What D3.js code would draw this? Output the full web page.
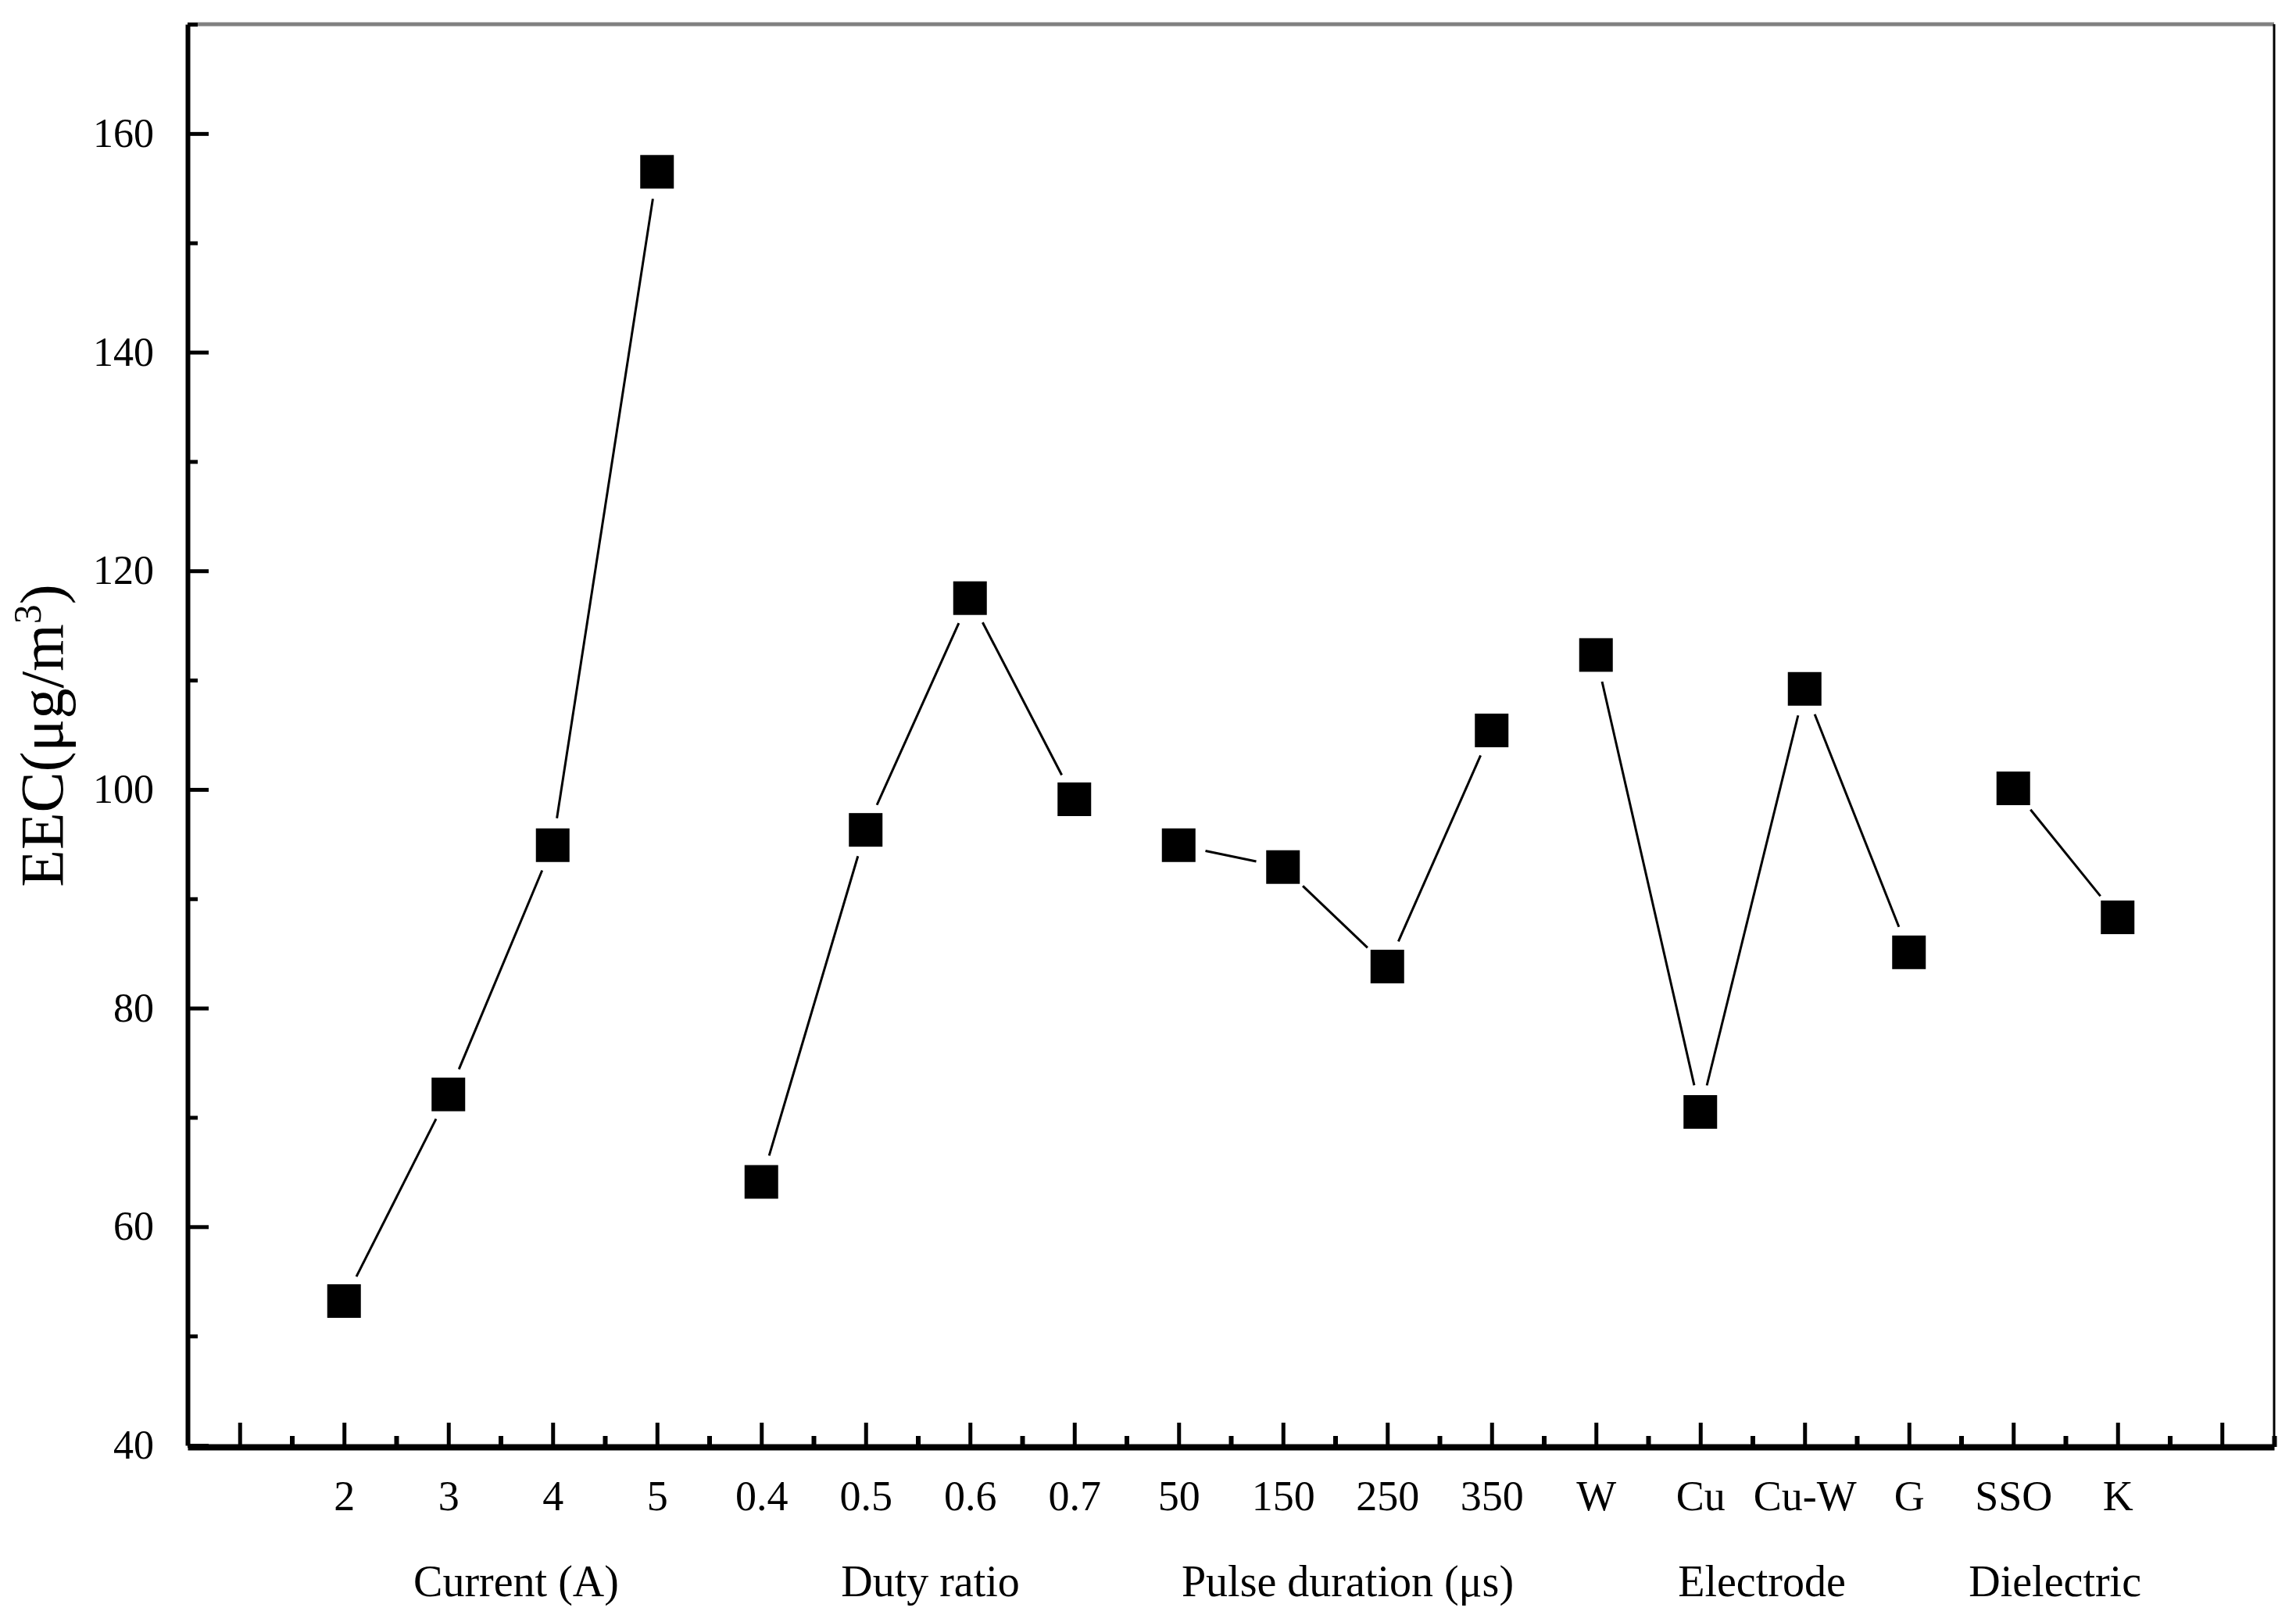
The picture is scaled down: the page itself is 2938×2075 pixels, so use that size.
<!DOCTYPE html>
<html lang="en">
<head>
<meta charset="UTF-8">
<title>EEC by process parameter</title>
<script src="https://d3js.org/d3.v7.min.js"></script>
<style>
    body { margin: 0; background: #ffffff; }
    svg { display: block; font-family: 'Liberation Serif', 'Times New Roman', serif; }
    .axis text { fill: #000; }
</style>
</head>
<body>
<svg width="2938" height="2075"></svg>
<script>
    // data
    const groupNames = ["Current (A)", "Duty ratio", "Pulse duration (\u03bcs)", "Electrode", "Dielectric"];
    const groupCategories = [
        ["2", "3", "4", "5"],
        ["0.4", "0.5", "0.6", "0.7"],
        ["50", "150", "250", "350"],
        ["W", "Cu", "Cu-W", "G"],
        ["SSO", "K"]
    ];
    const groupValues = [
        [53.2, 72.1, 94.9, 156.5],
        [64.1, 96.3, 117.5, 99.1],
        [94.9, 92.9, 83.8, 105.4],
        [112.3, 70.5, 109.2, 85.1],
        [100.1, 88.3]
    ];
    const yTicks = [40, 60, 80, 100, 120, 140, 160];
    const yMinorTicks = [50, 70, 90, 110, 130, 150, 170];

    // layout
    const svg = d3.select("svg");
    const plot = { left: 240, right: 2910, top: 31, bottom: 1849 };
    const labelShift = [0.15, 0.12, 0.12, 0.09, -0.1];
    const serif = "'Liberation Serif', 'Times New Roman', serif";

    const categories = groupCategories.flat();

    const x = d3.scaleLinear().domain([-0.5, 19.5]).range([plot.left, plot.right]);
    const y = d3.scaleLinear().domain([40, 170]).range([plot.bottom, plot.top]);

    // points with their slot on the x axis (slot 0 and 19 are left blank)
    let slot = 1;
    const groups = groupValues.map((vals, g) => {
        const pts = vals.map((v, i) => ({ idx: slot + i, value: v, label: groupCategories[g][i] }));
        slot += vals.length;
        return pts;
    });

    // frame: grey top, thin right
    svg.append("line")
       .attr("x1", plot.left).attr("x2", plot.right).attr("y1", plot.top).attr("y2", plot.top)
       .attr("stroke", "#808080").attr("stroke-width", 5);
    svg.append("line")
       .attr("x1", plot.right).attr("x2", plot.right).attr("y1", plot.top).attr("y2", plot.bottom + 2)
       .attr("stroke", "#000").attr("stroke-width", 3);

    // connecting lines, stopped short of the markers
    const gap = 35;
    const lineG = svg.append("g");
    groups.forEach(pts => {
        d3.pairs(pts).forEach(([a, b]) => {
            const x1 = x(a.idx), y1 = y(a.value), x2 = x(b.idx), y2 = y(b.value);
            const len = Math.hypot(x2 - x1, y2 - y1);
            if (len <= 2 * gap) return;
            const ux = (x2 - x1) / len, uy = (y2 - y1) / len;
            lineG.append("line")
                 .attr("x1", x1 + ux * gap).attr("y1", y1 + uy * gap)
                 .attr("x2", x2 - ux * gap).attr("y2", y2 - uy * gap)
                 .attr("stroke", "#000").attr("stroke-width", 3);
        });
    });

    // square markers
    const size = 43;
    svg.append("g").selectAll("rect")
       .data(groups.flat())
       .enter()
       .append("rect")
       .attr("x", d => x(d.idx) - size / 2)
       .attr("y", d => y(d.value) - size / 2)
       .attr("width", size)
       .attr("height", size)
       .attr("fill", "#000");

    // bottom axis: minor ticks, then major ticks with labels
    const xMinor = svg.append("g")
        .attr("class", "axis")
        .attr("transform", `translate(0,${plot.bottom + 2})`)
        .call(d3.axisBottom(x).tickValues(d3.range(0.5, 20, 1)).tickSize(-14).tickSizeOuter(0).tickFormat(""));
    xMinor.select(".domain").remove();
    xMinor.selectAll(".tick line").attr("stroke-width", 6);

    const xAxis = svg.append("g")
        .attr("class", "axis")
        .attr("transform", `translate(0,${plot.bottom + 2})`)
        .call(d3.axisBottom(x)
            .tickValues(d3.range(0, 20))
            .tickSize(-31)
            .tickSizeOuter(0)
            .tickFormat(i => (i >= 1 && i <= categories.length) ? categories[i - 1] : ""));
    xAxis.attr("font-family", serif).attr("font-size", 54);
    xAxis.select(".domain").attr("stroke-width", 8);
    xAxis.selectAll(".tick line").attr("stroke-width", 5);
    xAxis.selectAll(".tick text")
         .attr("y", 81)
         .attr("dy", 0);

    // left axis
    const yMinor = svg.append("g")
        .attr("class", "axis")
        .attr("transform", `translate(${plot.left},0)`)
        .call(d3.axisLeft(y).tickValues(yMinorTicks).tickSize(-13).tickSizeOuter(0).tickFormat(""));
    yMinor.select(".domain").remove();
    yMinor.selectAll(".tick line").attr("stroke-width", 5);

    const yAxis = svg.append("g")
        .attr("class", "axis")
        .attr("transform", `translate(${plot.left},0)`)
        .call(d3.axisLeft(y).tickValues(yTicks).tickSize(-27).tickSizeOuter(0));
    yAxis.attr("font-family", serif).attr("font-size", 52);
    yAxis.select(".domain").attr("stroke-width", 6);
    yAxis.selectAll(".tick line").attr("stroke-width", 5);
    yAxis.selectAll(".tick text").attr("x", -43);

    // group captions under the category labels
    svg.append("g").selectAll("text")
       .data(groups)
       .enter()
       .append("text")
       .attr("x", (pts, g) => x(d3.mean(pts, d => d.idx) + labelShift[g]))
       .attr("y", 2042)
       .attr("text-anchor", "middle")
       .style("font-size", "56px")
       .text((pts, g) => groupNames[g]);

    // y title with superscript
    const yTitle = svg.append("text")
       .attr("transform", "translate(80,941) rotate(-90)")
       .attr("text-anchor", "middle")
       .style("font-size", "78px");
    yTitle.append("tspan").text("EEC(\u03bcg/m");
    yTitle.append("tspan").attr("dy", -28).style("font-size", "50px").text("3");
    yTitle.append("tspan").attr("dy", 28).text(")");
</script>
</body>
</html>
